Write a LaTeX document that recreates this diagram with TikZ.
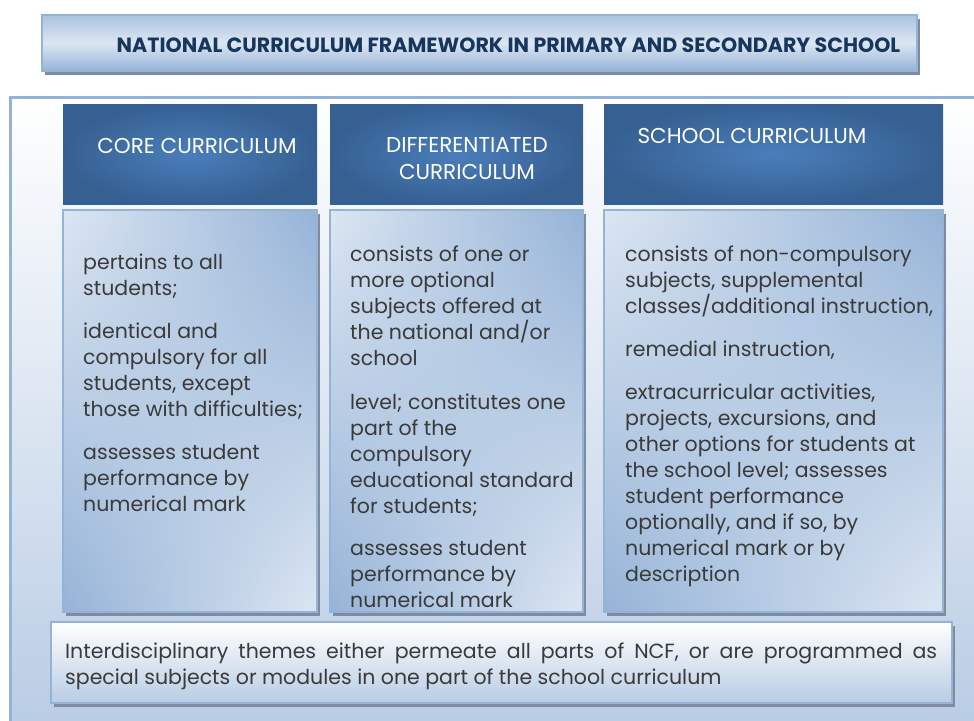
\documentclass[tikz,border=0pt]{standalone}
\usepackage{fontspec}
\setmainfont{Poppins}
\usetikzlibrary{shadows,shadings}
\definecolor{hdr}{HTML}{366092}
\definecolor{hdrin}{HTML}{4A7EBB}
\definecolor{navy}{HTML}{17365D}
\definecolor{lite}{HTML}{DCE6F2}
\definecolor{mid}{HTML}{95B3D7}
\definecolor{bord}{HTML}{95B3D7}
\definecolor{bot}{HTML}{B8CCE4}
\definecolor{txt}{HTML}{3A3A3A}
\definecolor{shad}{HTML}{7F8CA0}
\tikzset{
  hdrbox/.style={rectangle, inner sep=0pt, minimum height=100pt, inner color=hdrin, outer color=hdr},
  bodybox/.style={rectangle, draw=bord, line width=2.5pt, inner sep=0pt, minimum height=402pt,
     upper left=lite, upper right=mid, lower left=mid, lower right=lite,
     drop shadow={shadow xshift=3pt, shadow yshift=-4pt, fill=shad, opacity=1}},
  hdrtext/.style={text=white, font=\fontsize{21.5}{27}\selectfont, align=center, inner sep=0pt},
  bodytext/.style={text=txt, font=\fontsize{20.5}{26}\selectfont, align=left, anchor=north west, inner sep=0pt},
}
\begin{document}
\begin{tikzpicture}[x=1pt,y=-1pt]
\useasboundingbox (0,0) rectangle (974,720);
% outer frame
\node[rectangle, draw=bord, line width=2.5pt, top color=white, bottom color=bot, minimum width=990pt, minimum height=640pt, anchor=north west, inner sep=0pt] (frame) at (9,96) {};
% title
\node[rectangle, draw=bord, line width=2.5pt, minimum width=875pt, minimum height=56pt, inner sep=0pt,
  top color=mid!70!lite, bottom color=mid, middle color=lite,
  drop shadow={shadow xshift=3pt, shadow yshift=-4pt, fill=shad, opacity=1}] (title) at (479.5,43) {};
\node[text=navy, font=\bfseries\fontsize{20.6}{22}\selectfont, inner sep=0pt] (titletext) at (508.5,45) {NATIONAL CURRICULUM FRAMEWORK IN PRIMARY AND SECONDARY SCHOOL};
% headers
\node[hdrbox, minimum width=254pt] (h1) at (190,154) {};
\node[hdrbox, minimum width=253pt] (h2) at (456.5,154) {};
\node[hdrbox, minimum width=339pt] (h3) at (773.5,154) {};
\node[hdrtext] (h1t) at (197,146) {CORE CURRICULUM};
\node[hdrtext] (h2t) at (467,159) {DIFFERENTIATED\\CURRICULUM};
\node[hdrtext] (h3t) at (752,136) {SCHOOL CURRICULUM};
% bodies
\node[bodybox, minimum width=254pt] (b1) at (190,411) {};
\node[bodybox, minimum width=253pt] (b2) at (456.5,411) {};
\node[bodybox, minimum width=339pt] (b3) at (773.5,411) {};
\node[bodytext] (b1t) at (83,254) {pertains to all\\students;\\[17pt]identical and\\compulsory for all\\students, except\\those with difficulties;\\[17pt]assesses student\\performance by\\numerical mark};
\node[bodytext] (b2t) at (350,246) {consists of one or\\more optional\\subjects offered at\\the national and/or\\school\\[18pt]level; constitutes one\\part of the\\compulsory\\educational standard\\for students;\\[16pt]assesses student\\performance by\\numerical mark};
\node[bodytext] (b3t) at (625,246) {consists of non-compulsory\\subjects, supplemental\\classes/additional instruction,\\[17pt]remedial instruction,\\[17pt]extracurricular activities,\\projects, excursions, and\\other options for students at\\the school level; assesses\\student performance\\optionally, and if so, by\\numerical mark or by\\description};
% bottom
\node[rectangle, draw=bord, line width=2.5pt, minimum width=901pt, minimum height=81pt, inner sep=0pt,
  top color=white, bottom color=bot,
  drop shadow={shadow xshift=3pt, shadow yshift=-4pt, fill=shad, opacity=1}] (bottom) at (501.5,662.5) {};
\node[text=txt, font=\fontsize{20.5}{26}\selectfont, text width=872pt, align=justify, inner sep=0pt, anchor=north west] (bottomt) at (65,643) {Interdisciplinary themes either permeate all parts of NCF, or are programmed as\linebreak special subjects or modules in one part of the school curriculum};
\end{tikzpicture}
\end{document}
